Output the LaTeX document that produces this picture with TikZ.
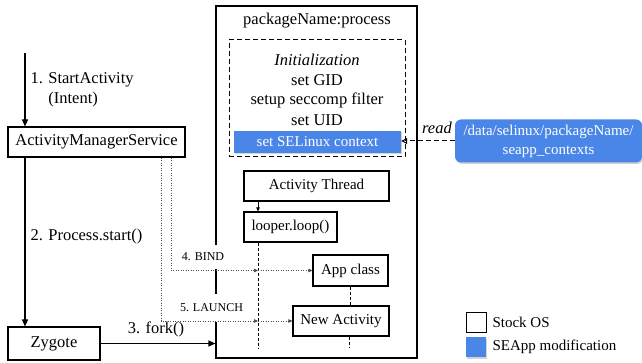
\documentclass[tikz,border=0pt]{standalone}
\usepackage{fontspec}
\setmainfont{Liberation Serif}
\usetikzlibrary{arrows.meta,shadows}
\definecolor{seblue}{HTML}{4A86E8}
\begin{document}
\begin{tikzpicture}[x=1pt,y=-1pt,
  bigtext/.style={font=\fontsize{16.5}{20}\selectfont},
  midtext/.style={font=\fontsize{15}{19}\selectfont},
  smalltext/.style={font=\fontsize{12}{14}\selectfont},
  box/.style={draw=black, line width=1.1pt, inner sep=0pt, fill=white},
  sebox/.style={fill=seblue, text=white, inner sep=0pt,
    drop shadow={shadow xshift=1.2pt, shadow yshift=-1.5pt, opacity=0.35}},
  flow/.style={line width=1.1pt, -{Triangle[length=7pt,width=6pt]}},
  msg/.style={draw=black!70, line width=0.7pt, dash pattern=on 1pt off 1.5pt,
    -{Triangle[length=4pt,width=3.5pt]}},
  life/.style={line width=0.8pt, dash pattern=on 3pt off 2pt},
]
\useasboundingbox (0,0) rectangle (642,363);

% application process container
\node[box, minimum width=201pt, minimum height=352pt] (proc) at (316.5,182) {};
\node[bigtext] (ptitle) at (317,21) {packageName:process};

% initialization block
\node[draw, line width=1pt, dash pattern=on 5pt off 3pt, inner sep=0pt,
  minimum width=176pt, minimum height=117pt] (init) at (317,98.5) {};
\node[font=\fontsize{16.5}{20}\selectfont\itshape] (initt) at (317,60) {Initialization};
\node[bigtext] (gid) at (317,80) {set GID};
\node[bigtext] (secc) at (317,100) {setup seccomp filter};
\node[bigtext] (uid) at (317,120) {set UID};
\node[sebox, midtext, minimum width=167pt, minimum height=22pt] (selinux) at (317.5,142) {set SELinux context};

% runtime boxes
\node[box, midtext, minimum width=145pt, minimum height=30pt] (at) at (316.5,186) {Activity Thread};
\node[box, midtext, minimum width=93pt, minimum height=30pt] (loop) at (290.5,227) {looper.loop()};
\node[box, midtext, minimum width=75pt, minimum height=31pt] (app) at (350.5,270.5) {App class};
\node[box, midtext, minimum width=96pt, minimum height=30pt] (newact) at (341,321) {New Activity};

% system services
\node[box, bigtext, minimum width=177pt, minimum height=30pt] (ams) at (96.5,142) {ActivityManagerService};
\node[box, bigtext, minimum width=92pt, minimum height=33pt] (zyg) at (54,343.5) {Zygote};

% policy file
\node[sebox, midtext, rounded corners=6pt, minimum width=187pt, minimum height=43pt,
  align=center] (file) at (548.5,141) {/data/selinux/packageName/\\seapp\_contexts};

% legend
\node[box, line width=1pt, minimum size=20pt] (lgstock) at (476,322) {};
\node[sebox, minimum size=20pt] (lgse) at (476,347) {};
\node[midtext, anchor=west] (lgstockt) at (489,322) {Stock OS};
\node[midtext, anchor=west] (lgset) at (489,347) {SEApp modification};

% step labels
\node[bigtext, anchor=west, align=left] (l1) at (27,90) {1. StartActivity\\\hphantom{1. }(Intent)};
\node[bigtext, anchor=west] (l2) at (27,237) {2. Process.start()};
\node[bigtext] (l3) at (156,329) {3. fork()};
\node[font=\fontsize{16.5}{20}\selectfont\itshape] (lread) at (437,128) {read};
\node[smalltext, fill=white, inner sep=2pt, minimum height=24pt] (lbind) at (203,257) {4. BIND};
\node[smalltext, fill=white, inner sep=2pt, minimum height=28pt] (llaunch) at (211.5,307.5) {5. LAUNCH};

% main control flow
\coordinate (a1) at (25,53);
\draw[flow] (a1) -- (a1 |- ams.north);
\draw[flow] (a1 |- ams.south) -- (a1 |- zyg.north);
\draw[flow] (zyg.east) -- (zyg.east -| proc.west);

% looper lifeline
\coordinate (llx) at (258,0);
\coordinate (llend) at (258,348);
\draw[line width=0.8pt, -{Triangle[length=4pt,width=3.5pt]}] (at.south -| llx) -- (loop.north -| llx);
\draw[life] (loop.south -| llx) -- (llend);
\draw[life] (app.south) -- (app.south |- newact.north);
\coordinate (naend) at (349,348);
\draw[life] (newact.south -| naend) -- (naend);

% messages from the activity manager
\coordinate (bx) at (171,0);
\coordinate (lx) at (161,0);
\coordinate (bindhit) at (258,270.5);
\coordinate (launchhit) at (258,321);
\draw[msg] (ams.south -| bx) |- (bindhit);
\draw[msg] (bindhit) -- (app.west);
\draw[msg] (ams.south -| lx) |- (launchhit);
\draw[msg] (launchhit) -- (newact.west);

% policy lookup
\draw[line width=1pt, dash pattern=on 5pt off 3pt, -{Triangle[open,length=6pt,width=6pt]}]
  (file.west) -- (file.west -| selinux.east);
\end{tikzpicture}
\end{document}
